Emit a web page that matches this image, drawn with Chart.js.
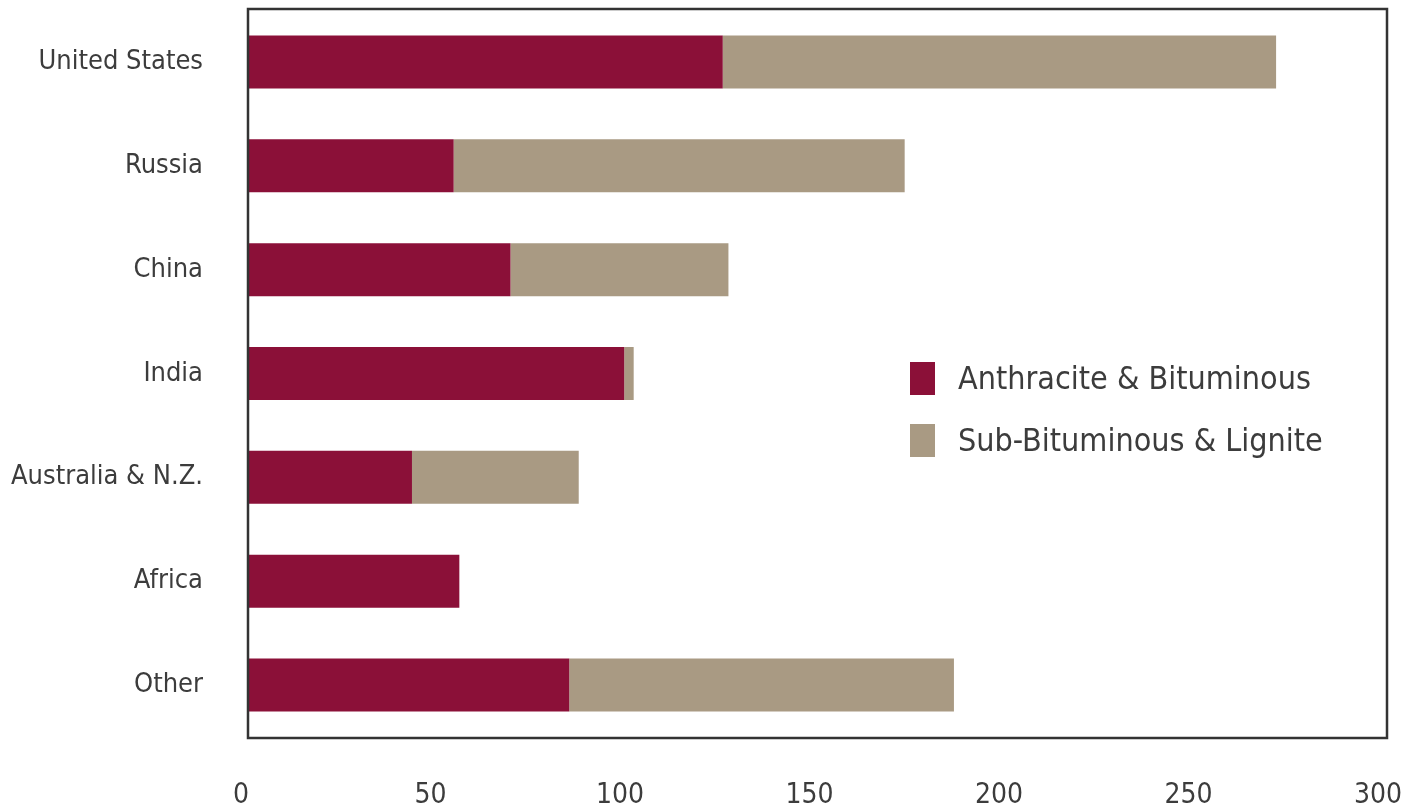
<!DOCTYPE html>
<html>
<head>
<meta charset="utf-8">
<script src="https://cdn.jsdelivr.net/npm/chart.js@4/dist/chart.umd.min.js"></script>
<style>
  html, body { margin: 0; padding: 0; background: #fff; }
  #wrap { position: relative; width: 1403px; height: 808px; }
  #legend { position: absolute; left: 910px; top: 358px; font-family: "Liberation Sans Narrow", "DejaVu Sans Condensed", sans-serif; font-size: 32px; color: #3c3c3c; }
  #legend div { display: flex; align-items: center; height: 40px; margin-bottom: 22px; }
  #legend span.sw { display: inline-block; width: 25px; height: 33px; margin-right: 23px; }
</style>
</head>
<body>
<div id="wrap">
  <canvas id="c" width="1403" height="808"></canvas>
  <div id="legend"></div>
</div>
<script>
// Recoverable coal reserves by region (billion short tons)
const regions = ["United States", "Russia", "China", "India", "Australia & N.Z.", "Africa", "Other"];
const anthraciteBituminous = [125, 54, 69, 99, 43, 55.5, 84.5];
const subBituminousLignite = [146, 119, 57.5, 2.5, 44, 0, 101.5];
const seriesNames = ["Anthracite & Bituminous", "Sub-Bituminous & Lignite"];
const seriesColors = ["#8b1038", "#a99a83"];
const xTicks = [0, 50, 100, 150, 200, 250, 300];

const fontFamily = '"Liberation Sans Narrow", "DejaVu Sans Condensed", sans-serif';

// Full frame around the plotting area
const frame = {
  id: 'frame',
  afterDatasetsDraw(chart) {
    const a = chart.chartArea, ctx = chart.ctx;
    ctx.save();
    ctx.strokeStyle = '#333';
    ctx.lineWidth = 2.5;
    ctx.strokeRect(a.left - 1, a.top - 1, a.right - a.left + 2, a.bottom - a.top + 2);
    ctx.restore();
  }
};

function noEdgePadding(scale) {
  scale.paddingLeft = 0;
  scale.paddingRight = 0;
  scale.paddingTop = 0;
  scale.paddingBottom = 0;
}

new Chart(document.getElementById('c'), {
  type: 'bar',
  data: {
    labels: regions,
    datasets: [
      { label: seriesNames[0], data: anthraciteBituminous, backgroundColor: seriesColors[0] },
      { label: seriesNames[1], data: subBituminousLignite, backgroundColor: seriesColors[1] }
    ]
  },
  options: {
    indexAxis: 'y',
    responsive: false,
    animation: false,
    layout: { padding: { top: 10, right: 17, left: 0, bottom: 0 } },
    datasets: { bar: { categoryPercentage: 1.0, barPercentage: 0.51 } },
    plugins: { legend: { display: false }, tooltip: { enabled: false } },
    scales: {
      x: {
        stacked: true,
        min: 0, max: 300,
        afterBuildTicks(scale) { scale.ticks = xTicks.map(v => ({ value: v })); },
        afterFit(scale) { scale.height = 71; noEdgePadding(scale); },
        grid: { display: false, drawTicks: false },
        border: { display: false },
        ticks: { padding: 42, labelOffset: -8, maxRotation: 0, color: '#3c3c3c', font: { family: fontFamily, size: 28 } }
      },
      y: {
        stacked: true,
        afterFit(scale) { scale.width = 249; noEdgePadding(scale); },
        grid: { display: false, drawTicks: false },
        border: { display: false },
        ticks: { padding: 46, color: '#3c3c3c', font: { family: fontFamily, size: 27 } }
      }
    }
  },
  plugins: [frame]
});

// Legend
const lg = document.getElementById('legend');
seriesNames.forEach((n, i) => {
  const row = document.createElement('div');
  const sw = document.createElement('span');
  sw.className = 'sw';
  sw.style.background = seriesColors[i];
  row.appendChild(sw);
  row.appendChild(document.createTextNode(n));
  lg.appendChild(row);
});
</script>
</body>
</html>
